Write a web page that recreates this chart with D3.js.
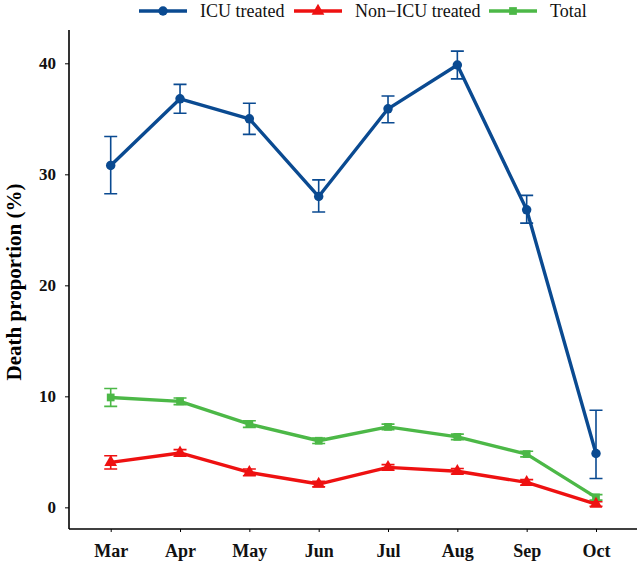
<!DOCTYPE html>
<html>
<head>
<meta charset="utf-8">
<script src="https://cdn.jsdelivr.net/npm/d3@7"></script>
<style>
  body { margin: 0; background: #fff; }
</style>
</head>
<body>
<div id="chart"></div>
<script>
//DATA
const months = ['Mar', 'Apr', 'May', 'Jun', 'Jul', 'Aug', 'Sep', 'Oct'];
const icuValues = [30.8, 36.8, 35.0, 28.0, 35.9, 39.85, 26.8, 4.85];
const icuLow = [28.25, 35.5, 33.6, 26.6, 34.65, 38.6, 25.6, 2.6];
const icuHigh = [33.4, 38.1, 36.4, 29.5, 37.05, 41.1, 28.1, 8.75];
const nonIcuValues = [4.05, 4.9, 3.15, 2.1, 3.6, 3.25, 2.25, 0.3];
const nonIcuLow = [3.45, 4.6, 2.85, 1.85, 3.35, 3.0, 2.0, 0.1];
const nonIcuHigh = [4.65, 5.2, 3.45, 2.35, 3.85, 3.5, 2.5, 0.5];
const totalValues = [9.9, 9.55, 7.5, 6.0, 7.25, 6.35, 4.8, 0.9];
const totalLow = [9.1, 9.25, 7.2, 5.75, 7.0, 6.1, 4.55, 0.65];
const totalHigh = [10.7, 9.85, 7.8, 6.25, 7.5, 6.6, 5.05, 1.15];
const yTicks = [0, 10, 20, 30, 40];

const series = [
    {name: 'ICU treated', color: '#0a4a91', shape: d3.symbolCircle, size: 70, values: icuValues, low: icuLow, high: icuHigh},
    {name: 'Non\u2212ICU treated', color: '#ee1111', shape: d3.symbolTriangle, size: 70, values: nonIcuValues, low: nonIcuLow, high: nonIcuHigh},
    {name: 'Total', color: '#4cb847', shape: d3.symbolSquare, size: 60, values: totalValues, low: totalLow, high: totalHigh}
];

const serif = '"Liberation Serif", "Times New Roman", serif';
const width = 637, height = 563;
const svg = d3.select('#chart').append('svg').attr('width', width).attr('height', height);

const x = d3.scalePoint().domain(months).range([110.7, 596]);
const y = d3.scaleLinear().domain([-1.95, 43]).range([529, 30]);

//AXES
const yAxis = svg.append('g').attr('transform', 'translate(69,0)')
    .call(d3.axisLeft(y).tickValues(yTicks).tickSize(4).tickPadding(9));
yAxis.select('.domain').attr('d', `M0,${y(43)}V${y(-1.95)}`).attr('stroke-width', 1.6);
yAxis.selectAll('.tick line').attr('stroke-width', 1);
yAxis.selectAll('.tick text').style('font-family', serif).style('font-weight', 'bold')
    .style('font-size', '17px').attr('fill', '#111');

const xAxis = svg.append('g').attr('transform', 'translate(0,529)')
    .call(d3.axisBottom(x).tickSize(3).tickPadding(12));
xAxis.select('.domain').attr('d', 'M69,0H637').attr('stroke-width', 1.6);
xAxis.selectAll('.tick line').attr('stroke-width', 1);
xAxis.selectAll('.tick text').style('font-family', serif).style('font-weight', 'bold')
    .style('font-size', '18px').attr('fill', '#111');

svg.append('text')
    .attr('transform', 'translate(21,' + y(20.3) + ') rotate(-90)')
    .attr('text-anchor', 'middle')
    .style('font-family', serif).style('font-weight', 'bold').style('font-size', '21px')
    .text('Death proportion (%)');

//SERIES
const line = d3.line().x((d, i) => x(months[i])).y(d => y(d));
const capW = 6.5;

series.slice().reverse().forEach(s => {
    const g = svg.append('g');
    g.selectAll('.err').data(months).enter().append('path')
        .attr('fill', 'none').attr('stroke', s.color).attr('stroke-width', 1.6)
        .attr('d', (m, i) => {
            const cx = x(m), y0 = y(s.low[i]), y1 = y(s.high[i]);
            return `M${cx - capW},${y1}H${cx + capW}M${cx},${y1}V${y0}M${cx - capW},${y0}H${cx + capW}`;
        });
    g.append('path').datum(s.values)
        .attr('fill', 'none').attr('stroke', s.color).attr('stroke-width', 3.4)
        .attr('stroke-linejoin', 'round')
        .attr('d', line);
    g.selectAll('.pt').data(s.values).enter().append('path')
        .attr('fill', s.color)
        .attr('transform', (d, i) => `translate(${x(months[i])},${y(d)})`)
        .attr('d', d3.symbol().type(s.shape).size(s.size));
});

//LEGEND
const legendX = [139, 294, 489];
series.forEach((s, i) => {
    const lg = svg.append('g').attr('transform', `translate(${legendX[i]},11)`);
    lg.append('line').attr('x1', 0).attr('x2', 48).attr('stroke', s.color).attr('stroke-width', 3.4);
    lg.append('path').attr('fill', s.color).attr('transform', 'translate(24,0)')
        .attr('d', d3.symbol().type(s.shape).size(s.size));
    lg.append('text').attr('x', 61).attr('y', 6)
        .style('font-family', serif).style('font-size', '18px').attr('fill', '#111')
        .text(s.name);
});
</script>
</body>
</html>
